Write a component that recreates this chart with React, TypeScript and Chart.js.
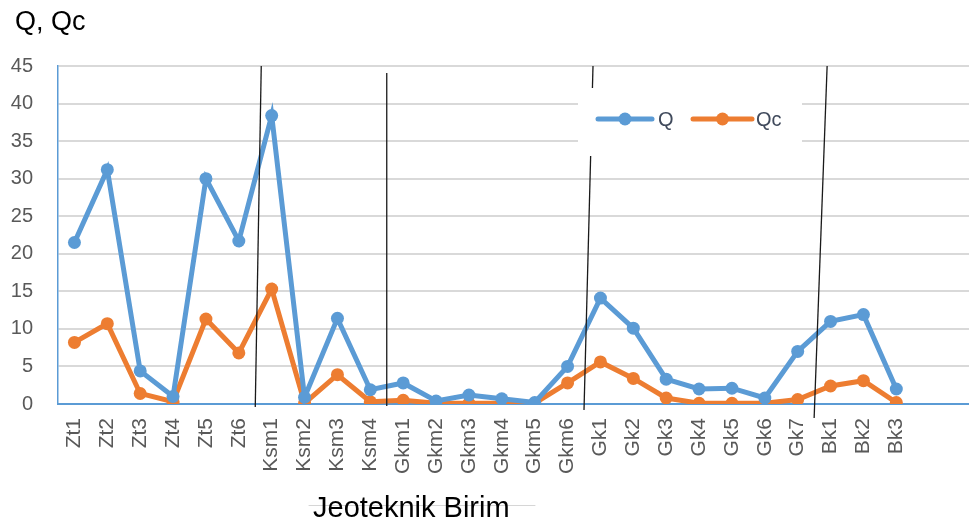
import React, { useEffect, useRef } from "react";
import { Chart, registerables } from "chart.js";

Chart.register(...registerables);

const categories = [
  "Zt1", "Zt2", "Zt3", "Zt4", "Zt5", "Zt6",
  "Ksm1", "Ksm2", "Ksm3", "Ksm4",
  "Gkm1", "Gkm2", "Gkm3", "Gkm4", "Gkm5", "Gkm6",
  "Gk1", "Gk2", "Gk3", "Gk4", "Gk5", "Gk6", "Gk7",
  "Bk1", "Bk2", "Bk3", "", "",
];
const qValues = [
  21.5, 31.2, 4.4, 1.0, 30.0, 21.7,
  38.4, 0.9, 11.4, 1.9,
  2.8, 0.4, 1.2, 0.7, 0.2, 5.0,
  14.1, 10.1, 3.3, 2.0, 2.1, 0.8, 7.0,
  11.0, 11.9, 2.0, null, null,
];
const qcValues = [
  8.2, 10.7, 1.4, 0.3, 11.3, 6.8,
  15.3, 0.1, 3.9, 0.3,
  0.5, 0.1, 0.1, 0.1, 0.1, 2.8,
  5.6, 3.4, 0.8, 0.1, 0.1, 0.1, 0.6,
  2.4, 3.1, 0.2, null, null,
];
const separatorsAfter = ["Zt6", "Ksm4", "Gkm6", "Gk7"];
const yTicks = [0, 5, 10, 15, 20, 25, 30, 35, 40, 45];
const chartTitle = "Q, Qc";
const xTitle = "Jeoteknik Birim";

const BLUE = "#5B9BD5";
const ORANGE = "#ED7D31";
const FONT = "'Liberation Sans', Arial, sans-serif";

const overlayPlugin = {
  id: "overlay",
  afterDatasetsDraw(chart: any) {
    const ctx = chart.ctx;
    const x = chart.scales.x;
    const area = chart.chartArea;
    ctx.save();
    // separator lines (hand drawn, slightly slanted)
    const slants = [6, 0, 9, 13];
    const tops = [area.top, area.top + 7, area.top, area.top];
    const bottoms = [area.bottom + 3, area.bottom + 2, area.bottom + 6, area.bottom + 14];
    ctx.strokeStyle = "#1a1a1a";
    ctx.lineWidth = 1.3;
    separatorsAfter.forEach((name, i) => {
      const idx = categories.indexOf(name);
      const px = (x.getPixelForValue(idx) + x.getPixelForValue(idx + 1)) / 2;
      ctx.beginPath();
      ctx.moveTo(px + slants[i], tops[i]);
      ctx.lineTo(px, bottoms[i]);
      ctx.stroke();
    });
    // legend box
    ctx.fillStyle = "#ffffff";
    ctx.fillRect(578, 88, 224, 68);
    const items = [
      { label: "Q", color: BLUE, x0: 598, x1: 652, tx: 658 },
      { label: "Qc", color: ORANGE, x0: 693, x1: 752, tx: 756 },
    ];
    ctx.font = `20px ${FONT}`;
    ctx.textBaseline = "middle";
    ctx.textAlign = "left";
    items.forEach((it) => {
      const y = 119;
      ctx.strokeStyle = it.color;
      ctx.lineWidth = 5;
      ctx.lineCap = "round";
      ctx.beginPath();
      ctx.moveTo(it.x0, y);
      ctx.lineTo(it.x1, y);
      ctx.stroke();
      ctx.fillStyle = it.color;
      ctx.beginPath();
      ctx.arc((it.x0 + it.x1) / 2, y, 6.5, 0, Math.PI * 2);
      ctx.fill();
      ctx.fillStyle = "#404a5c";
      ctx.fillText(it.label, it.tx, y + 1);
    });
    // titles
    ctx.fillStyle = "#000000";
    ctx.textBaseline = "alphabetic";
    ctx.font = `27px ${FONT}`;
    ctx.fillText(chartTitle, 15, 30);
    ctx.strokeStyle = "#d6d6d6";
    ctx.lineWidth = 1;
    ctx.beginPath();
    ctx.moveTo(309, 505.5);
    ctx.lineTo(535, 505.5);
    ctx.stroke();
    ctx.font = `29px ${FONT}`;
    ctx.fillStyle = "#000000";
    ctx.fillText(xTitle, 313, 517);
    ctx.restore();
  },
};

export default function App() {
  const canvasRef = useRef<HTMLCanvasElement | null>(null);

  useEffect(() => {
    if (!canvasRef.current) return;
    const chart = new Chart(canvasRef.current, {
      type: "line",
      data: {
        labels: categories,
        datasets: [
          {
            label: "Q",
            data: qValues,
            borderColor: BLUE,
            backgroundColor: BLUE,
            borderWidth: 5,
            pointRadius: 6.5,
            pointBorderWidth: 0,
            pointBackgroundColor: BLUE,
            tension: 0,
          },
          {
            label: "Qc",
            data: qcValues,
            borderColor: ORANGE,
            backgroundColor: ORANGE,
            borderWidth: 5,
            pointRadius: 6.5,
            pointBorderWidth: 0,
            pointBackgroundColor: ORANGE,
            tension: 0,
          },
        ],
      },
      options: {
        responsive: false,
        animation: false,
        layout: { padding: { left: 0, right: 0, top: 66, bottom: 0 } },
        plugins: {
          legend: { display: false },
          title: { display: false },
          tooltip: { enabled: false },
        },
        scales: {
          x: {
            type: "category",
            offset: true,
            grid: { display: false, drawTicks: false, tickLength: 0 },
            border: { display: true, color: BLUE, width: 2 },
            ticks: {
              autoSkip: false,
              minRotation: 90,
              maxRotation: 90,
              padding: 14,
              color: "#595959",
              font: { family: FONT, size: 21 },
            },
            afterFit(scale: any) {
              scale.height = 125;
              scale.paddingLeft = 0;
              scale.paddingRight = 0;
            },
          },
          y: {
            min: 0,
            max: 45,
            afterBuildTicks(scale: any) {
              scale.ticks = yTicks.map((v) => ({ value: v }));
            },
            grid: { color: "#D9D9D9", lineWidth: 2, drawTicks: false, tickLength: 0 },
            border: { display: true, color: BLUE, width: 1.5 },
            ticks: {
              padding: 25,
              color: "#595959",
              font: { family: FONT, size: 20 },
            },
            afterFit(scale: any) {
              scale.width = 58;
            },
          },
        },
      },
      plugins: [overlayPlugin],
    });
    return () => chart.destroy();
  }, []);

  return (
    <div
      style={{
        position: "fixed",
        left: 0,
        top: 0,
        width: 969,
        height: 529,
        overflow: "hidden",
        background: "#ffffff",
      }}
    >
      <canvas ref={canvasRef} width={985} height={529} style={{ display: "block" }} />
    </div>
  );
}
